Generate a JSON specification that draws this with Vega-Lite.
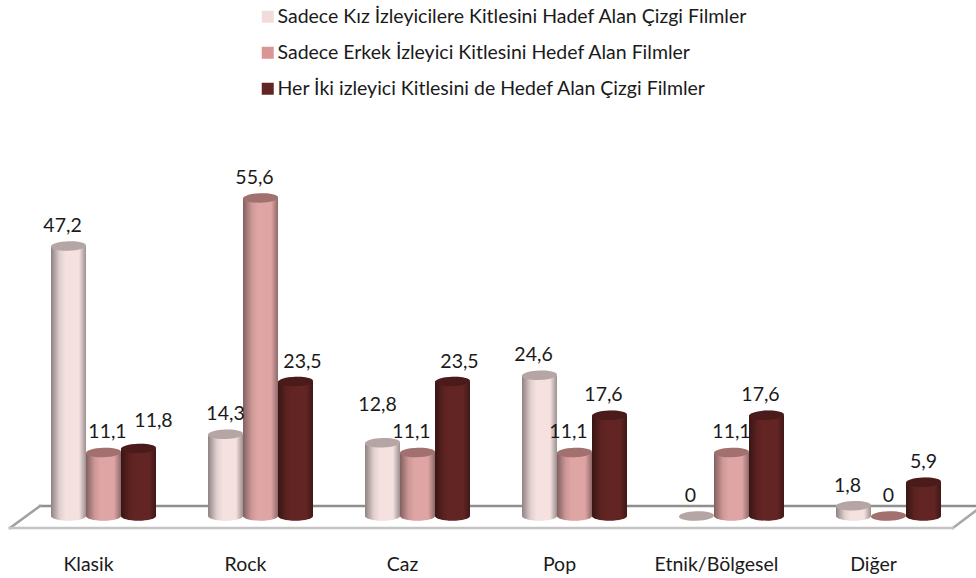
{
"$schema":"https://vega.github.io/schema/vega-lite/v6.json",
"width":976,"height":540,
"autosize":{"type":"none"},
"padding":{"left":0,"top":0,"right":0,"bottom":38},
"background":"#ffffff",
"config":{"view":{"stroke":null},"text":{"font":"Lato"}},
"datasets":{
"bars":[
{"cat":"Klasik","s":"Sadece Kız İzleyicilere Kitlesini Hadef Alan Çizgi Filmler","v":47.2,"t":"47,2"},
{"cat":"Klasik","s":"Sadece Erkek İzleyici Kitlesini Hedef Alan Filmler","v":11.1,"t":"11,1"},
{"cat":"Klasik","s":"Her İki izleyici Kitlesini de Hedef Alan Çizgi Filmler","v":11.8,"t":"11,8"},
{"cat":"Rock","s":"Sadece Kız İzleyicilere Kitlesini Hadef Alan Çizgi Filmler","v":14.3,"t":"14,3"},
{"cat":"Rock","s":"Sadece Erkek İzleyici Kitlesini Hedef Alan Filmler","v":55.6,"t":"55,6"},
{"cat":"Rock","s":"Her İki izleyici Kitlesini de Hedef Alan Çizgi Filmler","v":23.5,"t":"23,5"},
{"cat":"Caz","s":"Sadece Kız İzleyicilere Kitlesini Hadef Alan Çizgi Filmler","v":12.8,"t":"12,8"},
{"cat":"Caz","s":"Sadece Erkek İzleyici Kitlesini Hedef Alan Filmler","v":11.1,"t":"11,1"},
{"cat":"Caz","s":"Her İki izleyici Kitlesini de Hedef Alan Çizgi Filmler","v":23.5,"t":"23,5"},
{"cat":"Pop","s":"Sadece Kız İzleyicilere Kitlesini Hadef Alan Çizgi Filmler","v":24.6,"t":"24,6"},
{"cat":"Pop","s":"Sadece Erkek İzleyici Kitlesini Hedef Alan Filmler","v":11.1,"t":"11,1"},
{"cat":"Pop","s":"Her İki izleyici Kitlesini de Hedef Alan Çizgi Filmler","v":17.6,"t":"17,6"},
{"cat":"Etnik/Bölgesel","s":"Sadece Kız İzleyicilere Kitlesini Hadef Alan Çizgi Filmler","v":0,"t":"0"},
{"cat":"Etnik/Bölgesel","s":"Sadece Erkek İzleyici Kitlesini Hedef Alan Filmler","v":11.1,"t":"11,1"},
{"cat":"Etnik/Bölgesel","s":"Her İki izleyici Kitlesini de Hedef Alan Çizgi Filmler","v":17.6,"t":"17,6"},
{"cat":"Diğer","s":"Sadece Kız İzleyicilere Kitlesini Hadef Alan Çizgi Filmler","v":1.8,"t":"1,8"},
{"cat":"Diğer","s":"Sadece Erkek İzleyici Kitlesini Hedef Alan Filmler","v":0,"t":"0"},
{"cat":"Diğer","s":"Her İki izleyici Kitlesini de Hedef Alan Çizgi Filmler","v":5.9,"t":"5,9"}
],
"floor":[
{"e":"back","o":1,"fx":0.096,"fy":1.75},
{"e":"back","o":2,"fx":6.06,"fy":1.75},
{"e":"side","o":1,"fx":-0.096,"fy":-2.1},
{"e":"side","o":2,"fx":0.096,"fy":1.75},
{"e":"side2","o":1,"fx":5.91,"fy":-2.1},
{"e":"side2","o":2,"fx":6.06,"fy":1.0},
{"e":"front","o":1,"fx":-0.096,"fy":-2.1},
{"e":"front","o":2,"fx":5.91,"fy":-2.1}
]},
"layer":[
{"data":{"name":"floor"},
"mark":{"type":"line","strokeCap":"square","clip":false},
"encoding":{
"x":{"field":"fx","type":"quantitative","scale":{"domain":[0,6],"range":[25,967],"nice":false,"zero":false},"axis":null},
"y":{"field":"fy","type":"quantitative","scale":{"domain":[-4.2,90.2],"nice":false,"zero":false},"axis":null},
"order":{"field":"o"},
"detail":{"field":"e"},
"stroke":{"field":"e","type":"nominal","scale":{"domain":["back","side","side2","front"],"range":["#8f8f8f","#a0a0a0","#a8a8a8","#c4c4c4"]},"legend":null},
"strokeWidth":{"value":2.5}
}},
{"data":{"name":"bars"},
"encoding":{
"x":{"field":"cat","type":"nominal","sort":null,"scale":{"range":[25,967],"paddingInner":0,"paddingOuter":0},"axis":{"title":null,"domain":false,"ticks":false,"labelAngle":0,"labelFont":"Lato","labelFontSize":19.5,"labelColor":"#1a1a1a","labelPadding":15,"labelOffset":-15}},
"xOffset":{"field":"s","type":"nominal","sort":null,"scale":{"paddingInner":0,"paddingOuter":0.743}},
"y":{"field":"v","type":"quantitative","scale":{"domain":[-4.2,90.2],"nice":false,"zero":false},"axis":null}
},
"layer":[
{"transform":[{"filter":"datum.v>0"}],
"mark":{"type":"point","filled":true,"opacity":1,"size":1225,"shape":"M-1,0 A1,0.27 0 1,0 1,0 Z"},
"encoding":{"y":{"datum":0},"color":{"field":"s","type":"nominal","sort":null,
"scale":{"range":["#f2dcdb","#d99694","#632523"]},
"legend":{"title":null,"orient":"none","legendX":258,"legendY":7,"symbolType":"square","symbolSize":144,"symbolStrokeWidth":0,"symbolOpacity":1,"labelFont":"Lato","labelFontSize":19.5,"labelColor":"#1a1a1a","labelLimit":600,"labelOffset":0,"rowPadding":15}}}},
{"transform":[{"filter":"datum.v>0 && indexof(datum.s,'Her')!=0"}],
"mark":{"type":"point","filled":true,"fill":"#ffffff","opacity":0.15,"size":1225,"shape":"M-1,0 A1,0.27 0 1,0 1,0 Z"},
"encoding":{"y":{"datum":0}}},
{"transform":[{"filter":"datum.v>0"}],
"mark":{"type":"bar","cornerRadius":0},
"encoding":{"color":{"field":"s","type":"nominal","sort":null}}},
{"transform":[{"filter":"datum.v>0 && indexof(datum.s,'Her')!=0"}],
"mark":{"type":"bar","cornerRadius":0,"fill":"#ffffff","opacity":0.15}},
{"transform":[{"filter":"datum.v>0"}],
"mark":{"type":"bar","cornerRadius":0,
"fill":{"gradient":"linear","x1":0,"x2":1,"y1":0,"y2":0,"stops":[
{"offset":0,"color":"rgba(0,0,0,0.42)"},{"offset":0.25,"color":"rgba(0,0,0,0.08)"},{"offset":0.42,"color":"rgba(0,0,0,0)"},{"offset":0.8,"color":"rgba(0,0,0,0)"},{"offset":1,"color":"rgba(0,0,0,0.36)"}]}}},
{"transform":[{"filter":"datum.v>0"}],
"mark":{"type":"point","filled":true,"opacity":1,"size":1225,"shape":"M-1,0 A1,0.27 0 1,0 1,0 Z",
"fill":{"gradient":"linear","x1":0,"x2":1,"y1":0,"y2":0,"stops":[
{"offset":0,"color":"rgba(0,0,0,0.42)"},{"offset":0.25,"color":"rgba(0,0,0,0.08)"},{"offset":0.42,"color":"rgba(0,0,0,0)"},{"offset":0.8,"color":"rgba(0,0,0,0)"},{"offset":1,"color":"rgba(0,0,0,0.36)"}]}},
"encoding":{"y":{"datum":0}}},
{"mark":{"type":"point","filled":true,"opacity":1,"size":1225,"shape":"M-1,0.03 A1,0.27 -2 1,1 1,-0.03 A1,0.27 -2 1,1 -1,0.03 Z"},
"encoding":{"color":{"field":"s","type":"nominal","sort":null}}},
{"mark":{"type":"point","filled":true,"fill":"#000000","opacity":0.25,"size":1225,"shape":"M-1,0.03 A1,0.27 -2 1,1 1,-0.03 A1,0.27 -2 1,1 -1,0.03 Z"}},
{"transform":[{"filter":"!(datum.cat=='Klasik')&&!(datum.cat=='Caz')&&!(datum.cat=='Rock'&&datum.v==23.5)&&datum.v!=55.6&&datum.cat!='Pop'&&!(datum.cat=='Etnik/Bölgesel'&&datum.v!=11.1)&&datum.v!=1.8"}],
"mark":{"type":"text","font":"Lato","fontSize":19.5,"color":"#1a1a1a","dy":-20},
"encoding":{"text":{"field":"t"}}},
{"transform":[{"filter":"(datum.cat=='Caz'&&datum.v==11.1)||datum.cat=='Pop'||(datum.cat=='Etnik/Bölgesel'&&datum.v!=11.1)||datum.v==1.8||datum.v==47.2||datum.v==55.6"}],
"mark":{"type":"text","font":"Lato","fontSize":19.5,"color":"#1a1a1a","dy":-20,"dx":-6},
"encoding":{"text":{"field":"t"}}},
{"transform":[{"filter":"(datum.cat=='Rock'&&datum.v==23.5)||(datum.cat=='Caz'&&datum.v==23.5)"}],
"mark":{"type":"text","font":"Lato","fontSize":19.5,"color":"#1a1a1a","dy":-20,"dx":7},
"encoding":{"text":{"field":"t"}}},
{"transform":[{"filter":"datum.cat=='Klasik'&&datum.v==11.1"}],
"mark":{"type":"text","font":"Lato","fontSize":19.5,"color":"#1a1a1a","dy":-20,"dx":4},
"encoding":{"text":{"field":"t"}}},
{"transform":[{"filter":"datum.cat=='Klasik'&&datum.v==11.8"}],
"mark":{"type":"text","font":"Lato","fontSize":19.5,"color":"#1a1a1a","dy":-27,"dx":15},
"encoding":{"text":{"field":"t"}}},
{"transform":[{"filter":"datum.cat=='Caz'&&datum.v==12.8"}],
"mark":{"type":"text","font":"Lato","fontSize":19.5,"color":"#1a1a1a","dy":-38,"dx":-5},
"encoding":{"text":{"field":"t"}}}
]}
],
"resolve":{"scale":{"x":"independent","color":"independent"}}
}
